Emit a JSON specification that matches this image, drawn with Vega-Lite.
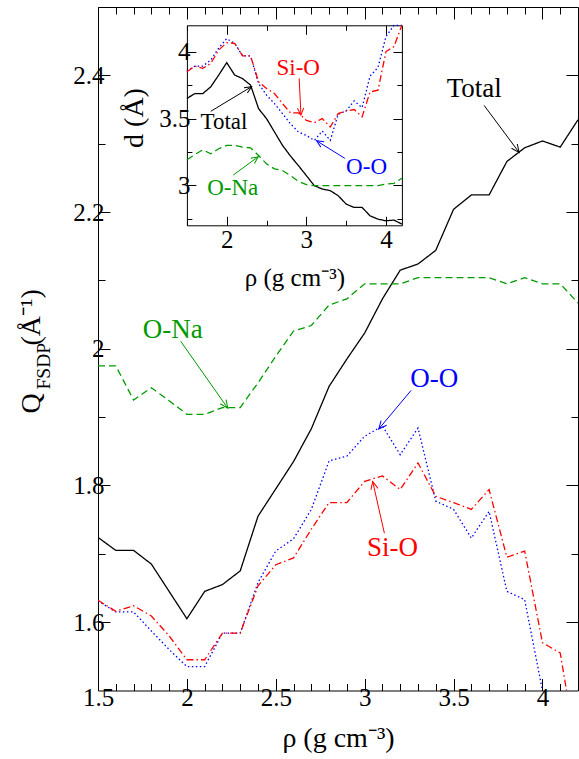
{
  "$schema": "https://vega.github.io/schema/vega-lite/v6.json",
  "width": 480,
  "height": 683.5,
  "autosize": {"type": "none"},
  "padding": {"left": 98, "top": 7, "right": 1, "bottom": 68.5},
  "background": "white",
  "config": {
    "view": {"stroke": null},
    "axis": {
      "grid": false,
      "labelFlush": false,
      "labelOverlap": false,
      "domainColor": "black",
      "tickColor": "black",
      "labelColor": "black",
      "titleColor": "black",
      "labelFont": "Liberation Serif",
      "titleFont": "Liberation Serif",
      "titleFontWeight": "normal",
      "labelFontSize": 25,
      "titleFontSize": 28,
      "domainWidth": 1,
      "tickWidth": 1
    },
    "text": {"font": "Liberation Serif"}
  },
  "datasets": {
    "main": [
      {"rho": 1.5, "Total": 1.724, "O-Na": 1.975, "O-O": 1.631, "Si-O": 1.632},
      {"rho": 1.6, "Total": 1.705, "O-Na": 1.975, "O-O": 1.615, "Si-O": 1.616},
      {"rho": 1.7, "Total": 1.705, "O-Na": 1.925, "O-O": 1.615, "Si-O": 1.624},
      {"rho": 1.8, "Total": 1.685, "O-Na": 1.943, "O-O": 1.587, "Si-O": 1.609},
      {"rho": 1.9, "Total": 1.645, "O-Na": 1.924, "O-O": 1.560, "Si-O": 1.580},
      {"rho": 2.0, "Total": 1.605, "O-Na": 1.904, "O-O": 1.535, "Si-O": 1.545},
      {"rho": 2.1, "Total": 1.645, "O-Na": 1.904, "O-O": 1.535, "Si-O": 1.545},
      {"rho": 2.2, "Total": 1.655, "O-Na": 1.914, "O-O": 1.584, "Si-O": 1.584},
      {"rho": 2.3, "Total": 1.675, "O-Na": 1.914, "O-O": 1.584, "Si-O": 1.584},
      {"rho": 2.4, "Total": 1.755, "O-Na": 1.950, "O-O": 1.658, "Si-O": 1.653},
      {"rho": 2.5, "Total": 1.795, "O-Na": 1.989, "O-O": 1.704, "Si-O": 1.684},
      {"rho": 2.6, "Total": 1.835, "O-Na": 2.026, "O-O": 1.722, "Si-O": 1.694},
      {"rho": 2.7, "Total": 1.883, "O-Na": 2.034, "O-O": 1.765, "Si-O": 1.736},
      {"rho": 2.8, "Total": 1.945, "O-Na": 2.064, "O-O": 1.836, "Si-O": 1.775},
      {"rho": 2.9, "Total": 1.985, "O-Na": 2.073, "O-O": 1.843, "Si-O": 1.775},
      {"rho": 3.0, "Total": 2.023, "O-Na": 2.095, "O-O": 1.872, "Si-O": 1.806},
      {"rho": 3.1, "Total": 2.073, "O-Na": 2.095, "O-O": 1.887, "Si-O": 1.814},
      {"rho": 3.2, "Total": 2.115, "O-Na": 2.095, "O-O": 1.845, "Si-O": 1.794},
      {"rho": 3.3, "Total": 2.124, "O-Na": 2.104, "O-O": 1.884, "Si-O": 1.833},
      {"rho": 3.4, "Total": 2.144, "O-Na": 2.104, "O-O": 1.777, "Si-O": 1.784},
      {"rho": 3.5, "Total": 2.204, "O-Na": 2.104, "O-O": 1.765, "Si-O": 1.775},
      {"rho": 3.6, "Total": 2.225, "O-Na": 2.104, "O-O": 1.723, "Si-O": 1.765},
      {"rho": 3.7, "Total": 2.225, "O-Na": 2.104, "O-O": 1.762, "Si-O": 1.794},
      {"rho": 3.8, "Total": 2.274, "O-Na": 2.095, "O-O": 1.645, "Si-O": 1.695},
      {"rho": 3.9, "Total": 2.294, "O-Na": 2.104, "O-O": 1.633, "Si-O": 1.704},
      {"rho": 4.0, "Total": 2.304, "O-Na": 2.095, "O-O": 1.500, "Si-O": 1.570},
      {"rho": 4.1, "Total": 2.295, "O-Na": 2.095, "O-O": 1.450, "Si-O": 1.555},
      {"rho": 4.2, "Total": 2.335, "O-Na": 2.067, "O-O": 1.420, "Si-O": 1.400}
    ],
    "inset": [
      {"rho": 1.5, "Total": 3.651, "O-Na": 3.191, "O-O": 3.859, "Si-O": 3.852},
      {"rho": 1.6, "Total": 3.688, "O-Na": 3.231, "O-O": 3.894, "Si-O": 3.894},
      {"rho": 1.7, "Total": 3.688, "O-Na": 3.266, "O-O": 3.894, "Si-O": 3.877},
      {"rho": 1.8, "Total": 3.739, "O-Na": 3.236, "O-O": 3.940, "Si-O": 3.915},
      {"rho": 1.9, "Total": 3.827, "O-Na": 3.274, "O-O": 4.030, "Si-O": 4.015},
      {"rho": 2.0, "Total": 3.920, "O-Na": 3.299, "O-O": 4.100, "Si-O": 4.070},
      {"rho": 2.1, "Total": 3.827, "O-Na": 3.299, "O-O": 4.065, "Si-O": 4.065},
      {"rho": 2.2, "Total": 3.800, "O-Na": 3.286, "O-O": 3.970, "Si-O": 3.970},
      {"rho": 2.3, "Total": 3.751, "O-Na": 3.281, "O-O": 3.970, "Si-O": 3.970},
      {"rho": 2.4, "Total": 3.575, "O-Na": 3.224, "O-O": 3.764, "Si-O": 3.776},
      {"rho": 2.5, "Total": 3.500, "O-Na": 3.161, "O-O": 3.676, "Si-O": 3.726},
      {"rho": 2.6, "Total": 3.400, "O-Na": 3.123, "O-O": 3.613, "Si-O": 3.688},
      {"rho": 2.7, "Total": 3.300, "O-Na": 3.111, "O-O": 3.538, "Si-O": 3.613},
      {"rho": 2.8, "Total": 3.220, "O-Na": 3.073, "O-O": 3.462, "Si-O": 3.543},
      {"rho": 2.9, "Total": 3.148, "O-Na": 3.030, "O-O": 3.400, "Si-O": 3.543},
      {"rho": 3.0, "Total": 3.073, "O-Na": 3.005, "O-O": 3.374, "Si-O": 3.487},
      {"rho": 3.1, "Total": 2.997, "O-Na": 2.997, "O-O": 3.337, "Si-O": 3.470},
      {"rho": 3.2, "Total": 2.972, "O-Na": 2.997, "O-O": 3.407, "Si-O": 3.500},
      {"rho": 3.3, "Total": 2.960, "O-Na": 2.997, "O-O": 3.337, "Si-O": 3.437},
      {"rho": 3.4, "Total": 2.922, "O-Na": 2.997, "O-O": 3.533, "Si-O": 3.538},
      {"rho": 3.5, "Total": 2.859, "O-Na": 2.997, "O-O": 3.558, "Si-O": 3.558},
      {"rho": 3.6, "Total": 2.834, "O-Na": 2.997, "O-O": 3.633, "Si-O": 3.568},
      {"rho": 3.7, "Total": 2.834, "O-Na": 2.997, "O-O": 3.583, "Si-O": 3.513},
      {"rho": 3.8, "Total": 2.771, "O-Na": 2.997, "O-O": 3.819, "Si-O": 3.700},
      {"rho": 3.9, "Total": 2.746, "O-Na": 2.997, "O-O": 3.884, "Si-O": 3.714},
      {"rho": 4.0, "Total": 2.734, "O-Na": 3.010, "O-O": 4.116, "Si-O": 4.003},
      {"rho": 4.1, "Total": 2.739, "O-Na": 3.015, "O-O": 4.300, "Si-O": 4.040},
      {"rho": 4.2, "Total": 2.709, "O-Na": 3.053, "O-O": 4.400, "Si-O": 4.220}
    ],
    "mainNotes": [
      {"series": "Total", "label": "Total", "x": 3.616, "y": 2.38, "x0": 3.672, "y0": 2.356, "x1": 3.869, "y1": 2.287},
      {"series": "O-Na", "label": "O-Na", "x": 1.921, "y": 2.028, "x0": 1.965, "y0": 2.011, "x1": 2.23, "y1": 1.913},
      {"series": "O-O", "label": "O-O", "x": 3.392, "y": 1.956, "x0": 3.261, "y0": 1.939, "x1": 3.079, "y1": 1.8825},
      {"series": "Si-O", "label": "Si-O", "x": 3.157, "y": 1.708, "x0": 3.111, "y0": 1.73, "x1": 3.045, "y1": 1.806}
    ],
    "insetNotes": [
      {"series": "Total", "label": "Total", "x": 1.966, "y": 3.477, "x0": 1.8, "y0": 3.555, "x1": 2.313, "y1": 3.74},
      {"series": "O-Na", "label": "O-Na", "x": 2.075, "y": 2.977, "x0": 2.082, "y0": 3.077, "x1": 2.396, "y1": 3.214},
      {"series": "O-O", "label": "O-O", "x": 3.756, "y": 3.139, "x0": 3.484, "y0": 3.202, "x1": 3.128, "y1": 3.334},
      {"series": "Si-O", "label": "Si-O", "x": 2.898, "y": 3.877, "x0": 2.91, "y0": 3.802, "x1": 2.932, "y1": 3.527}
    ]
  },
  "layer": [
    {
      "layer": [
        {
          "data": {"name": "main"},
          "transform": [{"fold": ["Total", "O-Na", "O-O", "Si-O"], "as": ["series", "q"]}],
          "mark": {"type": "line", "clip": true, "strokeWidth": 1.3},
          "encoding": {
            "x": {"field": "rho", "type": "quantitative",
              "scale": {"domain": [1.5, 4.2], "nice": false, "zero": false},
              "axis": {"orient": "bottom", "values": [1.5, 2, 2.5, 3, 3.5, 4], "format": "~g", "tickSize": -12, "labelPadding": 7, "title": "ρ (g cm⁻³)", "titlePadding": 14}},
            "y": {"field": "q", "type": "quantitative",
              "scale": {"domain": [1.5, 2.5], "nice": false, "zero": false},
              "axis": {"orient": "left", "values": [1.6, 1.8, 2, 2.2, 2.4], "format": "~g", "tickSize": -12, "labelPadding": 6, "title": "Q", "titleAngle": 270, "titleAlign": "left", "titleBaseline": "alphabetic", "titleX": -59, "titleY": 406}},
            "color": {"field": "series", "type": "nominal",
              "scale": {"domain": ["Total", "O-Na", "O-O", "Si-O"], "range": ["#000000", "#009a00", "#0000ff", "#ff0000"]}, "legend": null},
            "strokeDash": {"field": "series", "type": "nominal",
              "scale": {"domain": ["Total", "O-Na", "O-O", "Si-O"], "range": [[1, 0], [7, 4], [1.5, 2.5], [7, 3, 1.5, 3]]}, "legend": null}
          }
        },
        {
          "data": {"name": "main"},
          "mark": {"type": "point", "opacity": 0},
          "encoding": {
            "x": {"field": "rho", "type": "quantitative",
              "axis": {"orient": "bottom", "values": [1.6, 1.7, 1.8, 1.9, 2.1, 2.2, 2.3, 2.4, 2.6, 2.7, 2.8, 2.9, 3.1, 3.2, 3.3, 3.4, 3.6, 3.7, 3.8, 3.9, 4.1], "tickSize": -7, "labels": false, "domain": false, "title": null}},
            "y": {"field": "Total", "type": "quantitative",
              "axis": {"orient": "left", "values": [1.7, 1.9, 2.1, 2.3], "tickSize": -7, "labels": false, "domain": false, "title": "FSDP", "titleFontSize": 19.5, "titleAngle": 270, "titleAlign": "left", "titleBaseline": "alphabetic", "titleX": -49, "titleY": 382}}
          }
        },
        {
          "data": {"name": "main"},
          "mark": {"type": "point", "opacity": 0},
          "encoding": {
            "x": {"field": "rho", "type": "quantitative",
              "axis": {"orient": "top", "values": [1.5, 2, 2.5, 3, 3.5, 4], "tickSize": -12, "labels": false, "title": null}},
            "y": {"field": "Total", "type": "quantitative",
              "axis": {"orient": "right", "values": [1.6, 1.8, 2, 2.2, 2.4], "tickSize": -12, "labels": false, "title": null}}
          }
        },
        {
          "data": {"name": "main"},
          "mark": {"type": "point", "opacity": 0},
          "encoding": {
            "x": {"field": "rho", "type": "quantitative",
              "axis": {"orient": "top", "values": [1.6, 1.7, 1.8, 1.9, 2.1, 2.2, 2.3, 2.4, 2.6, 2.7, 2.8, 2.9, 3.1, 3.2, 3.3, 3.4, 3.6, 3.7, 3.8, 3.9, 4.1], "tickSize": -7, "labels": false, "domain": false, "title": null}},
            "y": {"field": "Total", "type": "quantitative",
              "axis": {"orient": "right", "values": [1.7, 1.9, 2.1, 2.3], "tickSize": -7, "labels": false, "domain": false, "title": null}}
          }
        },
        {
          "data": {"name": "main"},
          "mark": {"type": "point", "opacity": 0},
          "encoding": {
            "x": {"field": "rho", "type": "quantitative", "axis": null},
            "y": {"field": "Total", "type": "quantitative",
              "axis": {"orient": "left", "ticks": false, "labels": false, "domain": false, "title": "(Å⁻¹)", "titleAngle": 270, "titleAlign": "left", "titleBaseline": "alphabetic", "titleX": -59, "titleY": 338}}
          }
        },
        {
          "data": {"name": "mainNotes"},
          "mark": {"type": "text", "fontSize": 27, "align": "center", "baseline": "middle"},
          "encoding": {
            "x": {"field": "x", "type": "quantitative", "axis": null},
            "y": {"field": "y", "type": "quantitative", "axis": null},
            "text": {"field": "label"},
            "color": {"field": "series", "type": "nominal", "legend": null}
          }
        },
        {
          "data": {"name": "mainNotes"},
          "mark": {"type": "rule", "strokeWidth": 1},
          "encoding": {
            "x": {"field": "x0", "type": "quantitative", "axis": null},
            "y": {"field": "y0", "type": "quantitative", "axis": null},
            "x2": {"field": "x1"},
            "y2": {"field": "y1"},
            "color": {"field": "series", "type": "nominal", "legend": null}
          }
        },
        {
          "data": {"name": "mainNotes"},
          "transform": [{"filter": "datum.series === 'Total'"}],
          "mark": {"type": "point", "shape": "M-1,-0.45L0,0L-1,0.45", "angle": 53.4, "size": 256, "filled": false, "strokeWidth": 1, "opacity": 1},
          "encoding": {
            "x": {"field": "x1", "type": "quantitative", "axis": null},
            "y": {"field": "y1", "type": "quantitative", "axis": null},
            "color": {"field": "series", "type": "nominal", "legend": null}
          }
        },
        {
          "data": {"name": "mainNotes"},
          "transform": [{"filter": "datum.series === 'O-Na'"}],
          "mark": {"type": "point", "shape": "M-1,-0.45L0,0L-1,0.45", "angle": 54.9, "size": 256, "filled": false, "strokeWidth": 1, "opacity": 1},
          "encoding": {
            "x": {"field": "x1", "type": "quantitative", "axis": null},
            "y": {"field": "y1", "type": "quantitative", "axis": null},
            "color": {"field": "series", "type": "nominal", "legend": null}
          }
        },
        {
          "data": {"name": "mainNotes"},
          "transform": [{"filter": "datum.series === 'O-O'"}],
          "mark": {"type": "point", "shape": "M-1,-0.45L0,0L-1,0.45", "angle": 130, "size": 256, "filled": false, "strokeWidth": 1, "opacity": 1},
          "encoding": {
            "x": {"field": "x1", "type": "quantitative", "axis": null},
            "y": {"field": "y1", "type": "quantitative", "axis": null},
            "color": {"field": "series", "type": "nominal", "legend": null}
          }
        },
        {
          "data": {"name": "mainNotes"},
          "transform": [{"filter": "datum.series === 'Si-O'"}],
          "mark": {"type": "point", "shape": "M-1,-0.45L0,0L-1,0.45", "angle": 257.3, "size": 256, "filled": false, "strokeWidth": 1, "opacity": 1},
          "encoding": {
            "x": {"field": "x1", "type": "quantitative", "axis": null},
            "y": {"field": "y1", "type": "quantitative", "axis": null},
            "color": {"field": "series", "type": "nominal", "legend": null}
          }
        }
      ],
      "resolve": {"axis": {"x": "independent", "y": "independent"}}
    },
    {
      "layer": [
        {
          "data": {"name": "inset"},
          "transform": [{"fold": ["Total", "O-Na", "O-O", "Si-O"], "as": ["series", "d"]}],
          "mark": {"type": "line", "strokeWidth": 1.3},
          "encoding": {
            "x": {"field": "rho", "type": "quantitative",
              "scale": {"domain": [1.5, 4.2], "range": [88.9, 303.9], "nice": false, "zero": false},
              "axis": {"orient": "bottom", "offset": -465.2, "values": [2, 3, 4], "format": "~g", "tickSize": -9, "labelPadding": 11, "title": "ρ (g cm⁻³)", "titleFontSize": 25, "titlePadding": 13}},
            "y": {"field": "d", "type": "quantitative",
              "scale": {"domain": [2.7, 4.2], "range": [218.3, 18.3], "nice": false, "zero": false, "clamp": true},
              "axis": {"orient": "left", "offset": -88.9, "values": [3, 3.5, 4], "format": "~g", "tickSize": -9, "labelPadding": 6, "title": "d (Å)", "titleFontSize": 28, "titleAngle": 270, "titleAlign": "center", "titleBaseline": "alphabetic", "titleX": -44, "titleY": 110.5}},
            "color": {"field": "series", "type": "nominal", "legend": null},
            "strokeDash": {"field": "series", "type": "nominal",
              "scale": {"domain": ["Total", "O-Na", "O-O", "Si-O"], "range": [[1, 0], [7, 4], [1.5, 2.5], [7, 3, 1.5, 3]]}, "legend": null}
          }
        },
        {
          "data": {"name": "inset"},
          "mark": {"type": "point", "opacity": 0},
          "encoding": {
            "x": {"field": "rho", "type": "quantitative",
              "axis": {"orient": "bottom", "offset": -465.2, "values": [1.5, 2.5, 3.5], "tickSize": -5, "labels": false, "domain": false, "title": null}},
            "y": {"field": "Total", "type": "quantitative",
              "axis": {"orient": "left", "offset": -88.9, "values": [2.75, 3.25, 3.75], "tickSize": -5, "labels": false, "domain": false, "title": null}}
          }
        },
        {
          "data": {"name": "inset"},
          "mark": {"type": "point", "opacity": 0},
          "encoding": {
            "x": {"field": "rho", "type": "quantitative",
              "axis": {"orient": "top", "offset": -18.3, "values": [2, 3, 4], "tickSize": -9, "labels": false, "title": null}},
            "y": {"field": "Total", "type": "quantitative",
              "axis": {"orient": "right", "offset": -176.1, "values": [3, 3.5, 4], "tickSize": -9, "labels": false, "title": null}}
          }
        },
        {
          "data": {"name": "inset"},
          "mark": {"type": "point", "opacity": 0},
          "encoding": {
            "x": {"field": "rho", "type": "quantitative",
              "axis": {"orient": "top", "offset": -18.3, "values": [1.5, 2.5, 3.5], "tickSize": -5, "labels": false, "domain": false, "title": null}},
            "y": {"field": "Total", "type": "quantitative",
              "axis": {"orient": "right", "offset": -176.1, "values": [2.75, 3.25, 3.75], "tickSize": -5, "labels": false, "domain": false, "title": null}}
          }
        },
        {
          "data": {"name": "insetNotes"},
          "mark": {"type": "text", "fontSize": 23, "align": "center", "baseline": "middle"},
          "encoding": {
            "x": {"field": "x", "type": "quantitative", "axis": null},
            "y": {"field": "y", "type": "quantitative", "axis": null},
            "text": {"field": "label"},
            "color": {"field": "series", "type": "nominal", "legend": null}
          }
        },
        {
          "data": {"name": "insetNotes"},
          "mark": {"type": "rule", "strokeWidth": 1},
          "encoding": {
            "x": {"field": "x0", "type": "quantitative", "axis": null},
            "y": {"field": "y0", "type": "quantitative", "axis": null},
            "x2": {"field": "x1"},
            "y2": {"field": "y1"},
            "color": {"field": "series", "type": "nominal", "legend": null}
          }
        },
        {
          "data": {"name": "insetNotes"},
          "transform": [{"filter": "datum.series === 'Total'"}],
          "mark": {"type": "point", "shape": "M-1,-0.45L0,0L-1,0.45", "angle": -31.8, "size": 196, "filled": false, "strokeWidth": 1, "opacity": 1},
          "encoding": {
            "x": {"field": "x1", "type": "quantitative", "axis": null},
            "y": {"field": "y1", "type": "quantitative", "axis": null},
            "color": {"field": "series", "type": "nominal", "legend": null}
          }
        },
        {
          "data": {"name": "insetNotes"},
          "transform": [{"filter": "datum.series === 'O-Na'"}],
          "mark": {"type": "point", "shape": "M-1,-0.45L0,0L-1,0.45", "angle": -36.2, "size": 196, "filled": false, "strokeWidth": 1, "opacity": 1},
          "encoding": {
            "x": {"field": "x1", "type": "quantitative", "axis": null},
            "y": {"field": "y1", "type": "quantitative", "axis": null},
            "color": {"field": "series", "type": "nominal", "legend": null}
          }
        },
        {
          "data": {"name": "insetNotes"},
          "transform": [{"filter": "datum.series === 'O-O'"}],
          "mark": {"type": "point", "shape": "M-1,-0.45L0,0L-1,0.45", "angle": 211.9, "size": 196, "filled": false, "strokeWidth": 1, "opacity": 1},
          "encoding": {
            "x": {"field": "x1", "type": "quantitative", "axis": null},
            "y": {"field": "y1", "type": "quantitative", "axis": null},
            "color": {"field": "series", "type": "nominal", "legend": null}
          }
        },
        {
          "data": {"name": "insetNotes"},
          "transform": [{"filter": "datum.series === 'Si-O'"}],
          "mark": {"type": "point", "shape": "M-1,-0.45L0,0L-1,0.45", "angle": 87.3, "size": 196, "filled": false, "strokeWidth": 1, "opacity": 1},
          "encoding": {
            "x": {"field": "x1", "type": "quantitative", "axis": null},
            "y": {"field": "y1", "type": "quantitative", "axis": null},
            "color": {"field": "series", "type": "nominal", "legend": null}
          }
        }
      ],
      "resolve": {"axis": {"x": "independent", "y": "independent"}}
    }
  ],
  "resolve": {"scale": {"x": "independent", "y": "independent"}, "axis": {"x": "independent", "y": "independent"}}
}
